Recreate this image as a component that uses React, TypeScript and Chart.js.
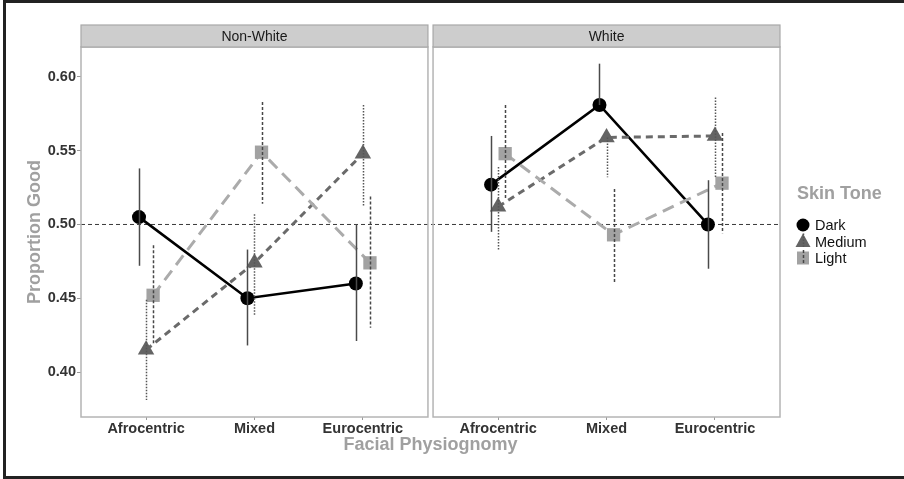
import React, { useEffect, useRef } from "react";
import { Chart, registerables } from "chart.js";

Chart.register(...registerables);

// ---- data ----
const categories = ["Afrocentric", "Mixed", "Eurocentric"];
const panels = ["Non-White", "White"];
const tones = ["Dark", "Medium", "Light"];
const yTicks = [0.4, 0.45, 0.5, 0.55, 0.6];

const nonWhiteDark = [0.505, 0.45, 0.46];
const nonWhiteDarkLo = [0.472, 0.418, 0.421];
const nonWhiteDarkHi = [0.538, 0.483, 0.5];
const nonWhiteMedium = [0.415, 0.474, 0.548];
const nonWhiteMediumLo = [0.381, 0.438, 0.512];
const nonWhiteMediumHi = [0.449, 0.507, 0.581];
const nonWhiteLight = [0.452, 0.549, 0.474];
const nonWhiteLightLo = [0.419, 0.514, 0.43];
const nonWhiteLightHi = [0.486, 0.583, 0.519];

const whiteDark = [0.527, 0.581, 0.5];
const whiteDarkLo = [0.495, 0.581, 0.47];
const whiteDarkHi = [0.56, 0.609, 0.53];
const whiteMedium = [0.512, 0.559, 0.56];
const whiteMediumLo = [0.483, 0.532, 0.532];
const whiteMediumHi = [0.539, 0.559, 0.586];
const whiteLight = [0.548, 0.493, 0.528];
const whiteLightLo = [0.517, 0.461, 0.494];
const whiteLightHi = [0.581, 0.524, 0.562];

const referenceLine = 0.5;

// ---- layout / style constants ----
const W = 904;
const H = 479;
const PANEL_SHIFT = 3.247; // second facet offset in x units
const X_MIN = -0.6;
const X_MAX = 2.6 + PANEL_SHIFT;
const Y_MIN = 0.3695;
const Y_MAX = 0.6203;
const DODGE = [-0.065, 0, 0.065];
const FONT = "'Liberation Sans', Arial, Helvetica, sans-serif";

const toneStyles = [
  { color: "#000000", line: "#000000", width: 2.6, dash: [] as number[], point: "circle", radius: 7, err: "#4a4a4a", errDash: [] as number[], errWidth: 1.5 },
  { color: "#646464", line: "#6a6a6a", width: 3, dash: [7, 5], point: "triangle", radius: 9.5, err: "#555555", errDash: [1.5, 1.5], errWidth: 1.5 },
  { color: "#a2a2a2", line: "#ababab", width: 3, dash: [12, 7], point: "rect", radius: 9.4, err: "#474747", errDash: [3, 2], errWidth: 1.5 },
];

const series = [
  [
    { v: nonWhiteDark, lo: nonWhiteDarkLo, hi: nonWhiteDarkHi },
    { v: nonWhiteMedium, lo: nonWhiteMediumLo, hi: nonWhiteMediumHi },
    { v: nonWhiteLight, lo: nonWhiteLightLo, hi: nonWhiteLightHi },
  ],
  [
    { v: whiteDark, lo: whiteDarkLo, hi: whiteDarkHi },
    { v: whiteMedium, lo: whiteMediumLo, hi: whiteMediumHi },
    { v: whiteLight, lo: whiteLightLo, hi: whiteLightHi },
  ],
];

function xPos(panel: number, cat: number, tone: number) {
  return cat + panel * PANEL_SHIFT + DODGE[tone];
}

const facetPlugin = {
  id: "facets",
  beforeDatasetsDraw(chart: any) {
    const { ctx, scales } = chart;
    const xs = scales.x;
    const ys = scales.y;
    const top = chart.chartArea.top;
    const bottom = chart.chartArea.bottom;
    ctx.save();
    // reference line
    ctx.strokeStyle = "#3a3a3a";
    ctx.lineWidth = 1;
    ctx.setLineDash([4, 3]);
    const yr = ys.getPixelForValue(referenceLine);
    ctx.beginPath();
    ctx.moveTo(xs.getPixelForValue(X_MIN), yr);
    ctx.lineTo(xs.getPixelForValue(X_MAX), yr);
    ctx.stroke();
    ctx.setLineDash([]);
    // panel borders & strips
    panels.forEach((name, p) => {
      const l = xs.getPixelForValue(X_MIN + p * PANEL_SHIFT);
      const r = xs.getPixelForValue(2.6 + p * PANEL_SHIFT);
      ctx.strokeStyle = "#b4b4b4";
      ctx.lineWidth = 1.5;
      ctx.strokeRect(l, top, r - l, bottom - top);
      ctx.fillStyle = "#cdcdcd";
      ctx.fillRect(l, 25, r - l, top - 25);
      ctx.strokeStyle = "#a8a8a8";
      ctx.lineWidth = 1.2;
      ctx.strokeRect(l, 25, r - l, top - 25);
      ctx.fillStyle = "#1a1a1a";
      ctx.font = `14px ${FONT}`;
      ctx.textAlign = "center";
      ctx.textBaseline = "middle";
      ctx.fillText(name, (l + r) / 2, (25 + top) / 2 + 1);
    });
    ctx.restore();
  },
  afterDatasetsDraw(chart: any) {
    const { ctx, scales } = chart;
    const xs = scales.x;
    const ys = scales.y;
    ctx.save();
    series.forEach((panelSeries, p) => {
      panelSeries.forEach((s, t) => {
        const st = toneStyles[t];
        ctx.strokeStyle = st.err;
        ctx.lineWidth = st.errWidth;
        ctx.setLineDash(st.errDash);
        s.v.forEach((_, c) => {
          const x = Math.round(xs.getPixelForValue(xPos(p, c, t))) + 0.5;
          ctx.beginPath();
          ctx.moveTo(x, ys.getPixelForValue(s.hi[c]));
          ctx.lineTo(x, ys.getPixelForValue(s.lo[c]));
          ctx.stroke();
        });
      });
    });
    ctx.setLineDash([]);
    ctx.restore();
  },
  afterDraw(chart: any) {
    const { ctx } = chart;
    ctx.save();
    // outer frame (top, left, bottom)
    ctx.strokeStyle = "#222222";
    ctx.lineWidth = 3;
    ctx.beginPath();
    ctx.moveTo(W, 1.5);
    ctx.lineTo(4.5, 1.5);
    ctx.lineTo(4.5, H - 1.5);
    ctx.lineTo(W, H - 1.5);
    ctx.stroke();
    // legend
    ctx.fillStyle = "#a0a0a0";
    ctx.font = `bold 18px ${FONT}`;
    ctx.textAlign = "left";
    ctx.textBaseline = "middle";
    ctx.fillText("Skin Tone", 797, 194);
    const ly = [225, 241.5, 258];
    tones.forEach((name, t) => {
      const st = toneStyles[t];
      const cx = 803;
      const cy = ly[t];
      ctx.fillStyle = st.color;
      ctx.beginPath();
      if (st.point === "circle") {
        ctx.arc(cx, cy, 6.5, 0, Math.PI * 2);
      } else if (st.point === "triangle") {
        ctx.moveTo(cx, cy - 8);
        ctx.lineTo(cx + 7.5, cy + 5.5);
        ctx.lineTo(cx - 7.5, cy + 5.5);
        ctx.closePath();
      } else {
        ctx.rect(cx - 6, cy - 6.5, 12, 13);
      }
      ctx.fill();
      if (t > 0) {
        ctx.strokeStyle = st.err;
        ctx.lineWidth = 1.5;
        ctx.setLineDash(st.errDash);
        ctx.beginPath();
        ctx.moveTo(cx + 0.5, cy - 8);
        ctx.lineTo(cx + 0.5, cy + 7);
        ctx.stroke();
        ctx.setLineDash([]);
      }
      ctx.fillStyle = "#111111";
      ctx.font = `14.5px ${FONT}`;
      ctx.fillText(name, 815, cy + 1);
    });
    ctx.restore();
  },
};

export default function App() {
  const ref = useRef<HTMLCanvasElement | null>(null);
  useEffect(() => {
    if (!ref.current) return;
    const datasets: any[] = [];
    series.forEach((panelSeries, p) => {
      panelSeries.forEach((s, t) => {
        const st = toneStyles[t];
        datasets.push({
          label: `${panels[p]} ${tones[t]}`,
          data: s.v.map((y, c) => ({ x: xPos(p, c, t), y })),
          borderColor: st.line,
          borderWidth: st.width,
          borderDash: st.dash,
          backgroundColor: st.color,
          pointStyle: st.point,
          pointRadius: st.radius,
          pointBackgroundColor: st.color,
          pointBorderWidth: 0,
          pointHoverRadius: st.radius,
          tension: 0,
          order: 2 - t,
        });
      });
    });
    const chart = new Chart(ref.current, {
      type: "line",
      data: { datasets },
      options: {
        animation: false,
        responsive: false,
        maintainAspectRatio: false,
        layout: { padding: { left: 0, right: 124, top: 47, bottom: 0 } },
        plugins: { legend: { display: false }, tooltip: { enabled: false } },
        scales: {
          x: {
            type: "linear",
            min: X_MIN,
            max: X_MAX,
            afterBuildTicks: (scale: any) => {
              scale.ticks = [0, 1, 2, PANEL_SHIFT, 1 + PANEL_SHIFT, 2 + PANEL_SHIFT].map((v) => ({ value: v }));
            },
            afterFit: (scale: any) => {
              scale.height = 62;
            },
            ticks: {
              autoSkip: false,
              maxRotation: 0,
              padding: 0,
              color: "#333333",
              font: { family: FONT, size: 14.5, weight: "bold" },
              callback: (_v: any, i: number) => categories[i % 3],
            },
            grid: { drawOnChartArea: false, drawTicks: true, tickLength: 3, color: "#999999" },
            border: { display: false },
            title: {
              display: true,
              text: "Facial Physiognomy",
              color: "#a0a0a0",
              font: { family: FONT, size: 18, weight: "bold" },
              padding: { top: 0, bottom: 23 },
            },
          },
          y: {
            type: "linear",
            min: Y_MIN,
            max: Y_MAX,
            afterBuildTicks: (scale: any) => {
              scale.ticks = yTicks.map((v) => ({ value: v }));
            },
            afterFit: (scale: any) => {
              scale.width = 81;
            },
            ticks: {
              padding: 1,
              color: "#333333",
              font: { family: FONT, size: 14.5, weight: "bold" },
              callback: (v: any) => Number(v).toFixed(2),
            },
            grid: { drawOnChartArea: false, drawTicks: true, tickLength: 4, color: "#999999" },
            border: { display: false },
            title: {
              display: true,
              text: "Proportion Good",
              color: "#a0a0a0",
              font: { family: FONT, size: 18, weight: "bold" },
              padding: { top: 24, bottom: 0 },
            },
          },
        },
      },
      plugins: [facetPlugin],
    });
    return () => chart.destroy();
  }, []);
  return (
    <div style={{ position: "fixed", left: 0, top: 0, width: W, height: H, background: "#ffffff" }}>
      <canvas ref={ref} width={W} height={H} style={{ display: "block" }} />
    </div>
  );
}
